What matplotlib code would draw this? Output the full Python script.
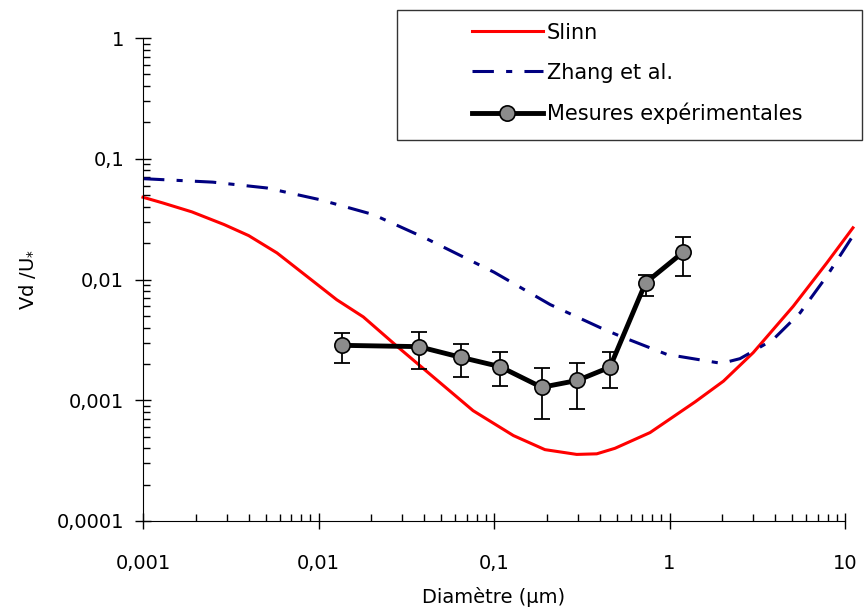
import matplotlib
matplotlib.use("Agg")
import matplotlib.pyplot as plt
from matplotlib.patches import Rectangle
from matplotlib.ticker import LogLocator, FuncFormatter, NullFormatter

plt.rcParams['font.family'] = ['DejaVu Sans']

# Slinn model
slinn_d = [0.001, 0.0013, 0.0019, 0.0029, 0.004, 0.0058, 0.0093, 0.0127, 0.018,
           0.028, 0.076, 0.129, 0.195, 0.296, 0.385, 0.489, 0.775, 1.4, 2.03,
           3.0, 5.07, 7.87, 11.1]
slinn_v = [0.048, 0.043, 0.0363, 0.0285, 0.0231, 0.0166, 0.0097, 0.0068, 0.0049,
           0.0028, 0.00082, 0.00051, 0.00039, 0.000356, 0.00036, 0.0004, 0.00054,
           0.00097, 0.00144, 0.00248, 0.006, 0.0137, 0.0268]

# Zhang et al. model
zhang_d = [0.001, 0.0025, 0.00507, 0.0102, 0.0205, 0.0404, 0.1, 0.209, 0.402,
           0.522, 0.964, 1.98, 2.52, 3.0, 3.9, 5.55, 7.87, 10.9]
zhang_v = [0.0684, 0.064, 0.0573, 0.0458, 0.0345, 0.0221, 0.0115, 0.0062, 0.004,
           0.0034, 0.0024, 0.00202, 0.00221, 0.00255, 0.00319, 0.0053, 0.01065, 0.0221]

# Experimental measurements
exp_d = [0.0136, 0.0372, 0.0646, 0.108, 0.187, 0.299, 0.458, 0.731, 1.2]
exp_v = [0.00285, 0.00278, 0.00227, 0.0019, 0.00128, 0.00146, 0.00188, 0.0094, 0.0169]
exp_hi = [0.00358, 0.00367, 0.00292, 0.00251, 0.00186, 0.00203, 0.00251, 0.011, 0.0224]
exp_lo = [0.00203, 0.00181, 0.00156, 0.00131, 0.0007, 0.00084, 0.00126, 0.00728, 0.0106]

fig = plt.figure(figsize=(8.64, 6.14), dpi=100)
ax = fig.add_axes([143 / 864, 1 - 521 / 614, (845 - 143) / 864, (521 - 38) / 614])

ax.plot(slinn_d, slinn_v, color='#ff0000', lw=2.2, label='Slinn', clip_on=False, zorder=2)
ax.plot(zhang_d, zhang_v, color='#000080', lw=2.2, linestyle=(0, (7, 4, 2, 4)),
        label='Zhang et al.', clip_on=False, zorder=2)

err = [[v - l for v, l in zip(exp_v, exp_lo)], [h - v for v, h in zip(exp_v, exp_hi)]]
ax.errorbar(exp_d, exp_v, yerr=err, fmt='none', ecolor='black', elinewidth=1.3,
            capsize=6, capthick=1.3, zorder=3)
ax.plot(exp_d, exp_v, color='black', lw=3.5, marker='o', markersize=11,
        markerfacecolor='#8c8c8c', markeredgecolor='black', markeredgewidth=1.2,
        label='Mesures expérimentales', zorder=4)

ax.set_xscale('log')
ax.set_yscale('log')
ax.set_xlim(0.001, 10)
ax.set_ylim(0.0001, 1)

for s in ['top', 'right']:
    ax.spines[s].set_visible(False)

comma = FuncFormatter(lambda v, p: ('%g' % v).replace('.', ',') if v >= 0.001
                      else ('%.4f' % v).replace('.', ','))
ax.xaxis.set_major_formatter(comma)
ax.yaxis.set_major_formatter(comma)
ax.xaxis.set_minor_locator(LogLocator(base=10, subs=range(2, 10), numticks=20))
ax.yaxis.set_minor_locator(LogLocator(base=10, subs=range(2, 10), numticks=20))
ax.xaxis.set_minor_formatter(NullFormatter())
ax.yaxis.set_minor_formatter(NullFormatter())
ax.tick_params(which='major', direction='inout', length=11, width=1, labelsize=14, pad=8)
ax.tick_params(which='minor', direction='in', length=5, width=1)
ax.tick_params(axis='x', which='major', pad=18)

ax.set_xlabel('Diamètre (µm)', fontsize=14, labelpad=10)
ax.set_ylabel(r'Vd /U$_{*}$', fontsize=14, labelpad=14)

fig.patches.append(Rectangle((397 / 864, 1 - 140 / 614), 465 / 864, 130 / 614,
                             transform=fig.transFigure, fill=False, edgecolor='#333333', lw=1))
fig.legend(loc='upper left', bbox_to_anchor=(453 / 864, 1 - 4 / 614), frameon=False,
           fontsize=15, handlelength=3.4, handletextpad=0.2, labelspacing=0.95, numpoints=1)

fig.savefig('out.png', dpi=100)
